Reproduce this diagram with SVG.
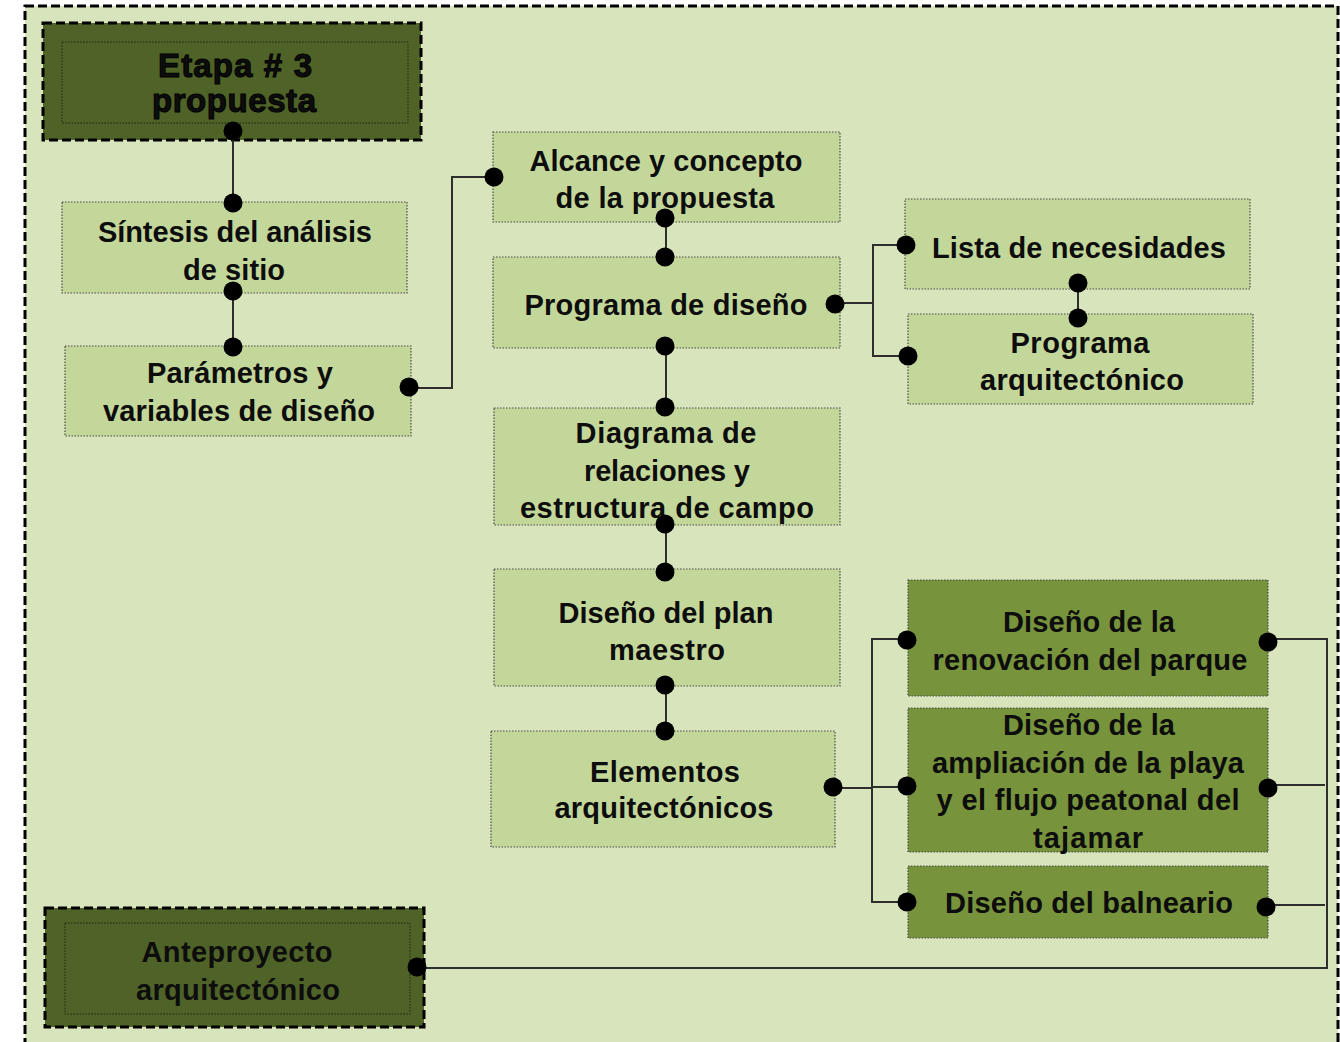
<svg xmlns="http://www.w3.org/2000/svg" width="1340" height="1042" viewBox="0 0 1340 1042">
<style>
.bg{fill:#d8e4bc;stroke:#000;stroke-width:3;stroke-dasharray:9 4}
.lt{fill:#c4d79b;stroke:#4a4a4a;stroke-width:1.2;stroke-dasharray:1.5 1.5}
.dk{fill:#77933c;stroke:#4a4a4a;stroke-width:1.2;stroke-dasharray:1.5 1.5}
.hd{fill:#4f6228;stroke:#000;stroke-width:3;stroke-dasharray:9 4}
.hdi{fill:none;stroke:#1e2a0c;stroke-width:1;stroke-dasharray:1.5 1.5}
text{font-family:"Liberation Sans",Arial,sans-serif;font-weight:bold;font-size:29px;fill:#0d0d0d;text-anchor:middle}
.big{font-size:33px;stroke:#000;stroke-width:1}
.ln{fill:none;stroke:#2e2e2e;stroke-width:2}
.dot{fill:#000}
</style>
<rect class="bg" x="25" y="6" width="1313" height="1060"/>

<g id="etapa3">
<rect class="hd" x="43" y="23" width="378" height="117"/>
<rect class="hdi" x="62" y="42" width="346" height="81"/>
<text class="big" x="235" y="77" textLength="154">Etapa # 3</text>
<text class="big" x="234" y="112" textLength="164">propuesta</text>
</g>

<g id="sintesis">
<rect class="lt" x="62" y="202" width="345" height="91"/>
<text x="235" y="242" textLength="274">Síntesis del análisis</text>
<text x="234" y="280" textLength="102">de sitio</text>
</g>

<g id="parametros">
<rect class="lt" x="65" y="346" width="346" height="90"/>
<text x="240" y="383" textLength="186">Parámetros y</text>
<text x="239" y="421" textLength="272">variables de diseño</text>
</g>

<g id="alcance">
<rect class="lt" x="493" y="132" width="347" height="90"/>
<text x="666" y="171" textLength="273">Alcance y concepto</text>
<text x="665" y="208" textLength="219">de la propuesta</text>
</g>

<g id="programa-diseno">
<rect class="lt" x="493" y="257" width="347" height="91"/>
<text x="666" y="315" textLength="283">Programa de diseño</text>
</g>

<g id="lista">
<rect class="lt" x="905" y="199" width="345" height="90"/>
<text x="1079" y="258" textLength="294">Lista de necesidades</text>
</g>

<g id="programa-arq">
<rect class="lt" x="908" y="314" width="345" height="90"/>
<text x="1080" y="353" textLength="139">Programa</text>
<text x="1082" y="390" textLength="204">arquitectónico</text>
</g>

<g id="diagrama">
<rect class="lt" x="494" y="408" width="346" height="117"/>
<text x="666" y="443" textLength="181">Diagrama de</text>
<text x="667" y="481" textLength="166">relaciones y</text>
<text x="667" y="518" textLength="294">estructura de campo</text>
</g>

<g id="plan-maestro">
<rect class="lt" x="494" y="569" width="346" height="117"/>
<text x="666" y="623" textLength="215">Diseño del plan</text>
<text x="667" y="660" textLength="116">maestro</text>
</g>

<g id="elementos">
<rect class="lt" x="491" y="731" width="344" height="116"/>
<text x="665" y="782" textLength="150">Elementos</text>
<text x="664" y="818" textLength="219">arquitectónicos</text>
</g>

<g id="renovacion">
<rect class="dk" x="908" y="580" width="360" height="116"/>
<text x="1089" y="632" textLength="172">Diseño de la</text>
<text x="1090" y="670" textLength="315">renovación del parque</text>
</g>

<g id="ampliacion">
<rect class="dk" x="908" y="708" width="360" height="144"/>
<text x="1089" y="735" textLength="172">Diseño de la</text>
<text x="1088" y="773" textLength="312">ampliación de la playa</text>
<text x="1088" y="810" textLength="303">y el flujo peatonal del</text>
<text x="1088" y="848" textLength="110">tajamar</text>
</g>

<g id="balneario">
<rect class="dk" x="908" y="866" width="360" height="72"/>
<text x="1089" y="913" textLength="288">Diseño del balneario</text>
</g>

<g id="anteproyecto">
<rect class="hd" x="45" y="908" width="379" height="119"/>
<rect class="hdi" x="65" y="923" width="345" height="91"/>
<text x="237" y="962" textLength="191">Anteproyecto</text>
<text x="238" y="1000" textLength="204">arquitectónico</text>
</g>

<g id="connectors">
<path class="ln" d="M233 131V203"/>
<path class="ln" d="M233 291V347"/>
<path class="ln" d="M409 388H452V177H494"/>
<path class="ln" d="M666 218V257"/>
<path class="ln" d="M666 346V407"/>
<path class="ln" d="M666 524V572"/>
<path class="ln" d="M666 685V731"/>
<path class="ln" d="M835 303H873M906 245H873V356H908"/>
<path class="ln" d="M1078 283V318"/>
<path class="ln" d="M833 788H872M907 639H872V902H907M872 787H907"/>
<path class="ln" d="M1268 639H1327V968H417M1268 785H1325M1268 905H1325"/>
<g class="dot">
<circle cx="233" cy="131" r="9.5"/>
<circle cx="233" cy="203" r="9.5"/>
<circle cx="233" cy="291" r="9.5"/>
<circle cx="233" cy="347" r="9.5"/>
<circle cx="409" cy="387" r="9.5"/>
<circle cx="494" cy="177" r="9.5"/>
<circle cx="665" cy="218" r="9.5"/>
<circle cx="665" cy="257" r="9.5"/>
<circle cx="835" cy="304" r="9.5"/>
<circle cx="665" cy="346" r="9.5"/>
<circle cx="665" cy="407" r="9.5"/>
<circle cx="906" cy="245" r="9.5"/>
<circle cx="908" cy="356" r="9.5"/>
<circle cx="1078" cy="283" r="9.5"/>
<circle cx="1078" cy="318" r="9.5"/>
<circle cx="665" cy="524" r="9.5"/>
<circle cx="665" cy="572" r="9.5"/>
<circle cx="665" cy="685" r="9.5"/>
<circle cx="665" cy="731" r="9.5"/>
<circle cx="833" cy="787" r="9.5"/>
<circle cx="907" cy="640" r="9.5"/>
<circle cx="907" cy="786" r="9.5"/>
<circle cx="907" cy="902" r="9.5"/>
<circle cx="1268" cy="642" r="9.5"/>
<circle cx="1268" cy="788" r="9.5"/>
<circle cx="1266" cy="907" r="9.5"/>
<circle cx="417" cy="967" r="9.5"/>
</g>
</g>
</svg>
